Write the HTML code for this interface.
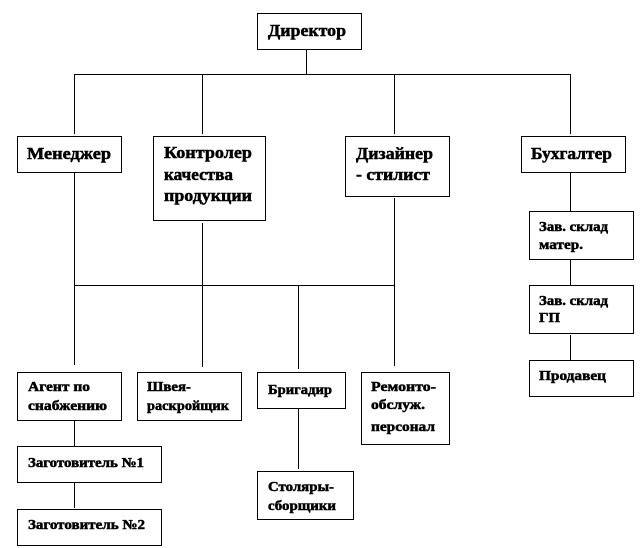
<!DOCTYPE html>
<html lang="ru">
<head>
<meta charset="utf-8">
<title>Организационная структура</title>
<style>
html,body{margin:0;padding:0;background:#fff;width:644px;height:548px;overflow:hidden}
svg{display:block}
text{font-family:"Liberation Serif","DejaVu Serif",serif;font-weight:bold;fill:#000;stroke:#000;stroke-width:.5}
.b{font-size:17px}
.s{font-size:13.5px}
rect{fill:#fff;stroke:#000;stroke-width:1}
line{stroke:#000;stroke-width:1}
</style>
</head>
<body>
<svg width="644" height="548" viewBox="0 0 644 548" xmlns="http://www.w3.org/2000/svg" shape-rendering="crispEdges">
<line x1="306.5" y1="49" x2="306.5" y2="74"/>
<line x1="74" y1="74.5" x2="571" y2="74.5"/>
<line x1="74.5" y1="74" x2="74.5" y2="134"/>
<line x1="202.5" y1="74" x2="202.5" y2="134"/>
<line x1="394.5" y1="74" x2="394.5" y2="134"/>
<line x1="570.5" y1="74" x2="570.5" y2="134"/>
<line x1="74.5" y1="172" x2="74.5" y2="365"/>
<line x1="202.5" y1="223" x2="202.5" y2="367"/>
<line x1="394.5" y1="198" x2="394.5" y2="366"/>
<line x1="74" y1="285.5" x2="395" y2="285.5"/>
<line x1="298.5" y1="285" x2="298.5" y2="369"/>
<line x1="570.5" y1="172" x2="570.5" y2="211"/>
<line x1="570.5" y1="259" x2="570.5" y2="285"/>
<line x1="570.5" y1="335" x2="570.5" y2="360"/>
<line x1="74.5" y1="420" x2="74.5" y2="446"/>
<line x1="74.5" y1="482" x2="74.5" y2="508"/>
<line x1="298.5" y1="409" x2="298.5" y2="469"/>

<rect x="257.5" y="13.5" width="104" height="36"/>
<rect x="17.5" y="136.5" width="104" height="36"/>
<rect x="153.5" y="136.5" width="112" height="84"/>
<rect x="345.5" y="136.5" width="104" height="60"/>
<rect x="521.5" y="136.5" width="104" height="36"/>
<rect x="529.5" y="211.5" width="104" height="48"/>
<rect x="529.5" y="285.5" width="104" height="48"/>
<rect x="529.5" y="360.5" width="104" height="36"/>
<rect x="17.5" y="372.5" width="104" height="48"/>
<rect x="137.5" y="372.5" width="104" height="48"/>
<rect x="257.5" y="372.5" width="88" height="36"/>
<rect x="361.5" y="372.5" width="88" height="72"/>
<rect x="17.5" y="446.5" width="144" height="36"/>
<rect x="17.5" y="509.5" width="144" height="36"/>
<rect x="257.5" y="471.5" width="96" height="48"/>

<g shape-rendering="auto">
<text class="b" x="268" y="36" textLength="78" lengthAdjust="spacingAndGlyphs">Директор</text>
<text class="b" x="27" y="159" textLength="84" lengthAdjust="spacingAndGlyphs">Менеджер</text>
<text class="b" x="164" y="158" textLength="88" lengthAdjust="spacingAndGlyphs">Контролер</text>
<text class="b" x="164" y="180" textLength="69" lengthAdjust="spacingAndGlyphs">качества</text>
<text class="b" x="164" y="201" textLength="88" lengthAdjust="spacingAndGlyphs">продукции</text>
<text class="b" x="356" y="159" textLength="77" lengthAdjust="spacingAndGlyphs">Дизайнер</text>
<text class="b" x="356" y="180" textLength="74" lengthAdjust="spacingAndGlyphs">- стилист</text>
<text class="b" x="531" y="159" textLength="81" lengthAdjust="spacingAndGlyphs">Бухгалтер</text>

<text class="s" x="539" y="231" textLength="69" lengthAdjust="spacingAndGlyphs">Зав. склад</text>
<text class="s" x="539" y="249" textLength="44" lengthAdjust="spacingAndGlyphs">матер.</text>
<text class="s" x="539" y="305" textLength="69" lengthAdjust="spacingAndGlyphs">Зав. склад</text>
<text class="s" x="539" y="322" textLength="21" lengthAdjust="spacingAndGlyphs">ГП</text>
<text class="s" x="539" y="380" textLength="67" lengthAdjust="spacingAndGlyphs">Продавец</text>

<text class="s" x="28" y="391" textLength="62" lengthAdjust="spacingAndGlyphs">Агент по</text>
<text class="s" x="28" y="410" textLength="79" lengthAdjust="spacingAndGlyphs">снабжению</text>
<text class="s" x="147" y="391" textLength="44" lengthAdjust="spacingAndGlyphs">Швея-</text>
<text class="s" x="147" y="410" textLength="82" lengthAdjust="spacingAndGlyphs">раскройщик</text>
<text class="s" x="268" y="394" textLength="64" lengthAdjust="spacingAndGlyphs">Бригадир</text>
<text class="s" x="371" y="391" textLength="65" lengthAdjust="spacingAndGlyphs">Ремонто-</text>
<text class="s" x="371" y="409" textLength="54" lengthAdjust="spacingAndGlyphs">обслуж.</text>
<text class="s" x="371" y="431" textLength="64" lengthAdjust="spacingAndGlyphs">персонал</text>
<text class="s" x="28" y="467" textLength="116" lengthAdjust="spacingAndGlyphs">Заготовитель №1</text>
<text class="s" x="28" y="529" textLength="117" lengthAdjust="spacingAndGlyphs">Заготовитель №2</text>
<text class="s" x="268" y="491" textLength="66" lengthAdjust="spacingAndGlyphs">Столяры-</text>
<text class="s" x="268" y="510" textLength="68" lengthAdjust="spacingAndGlyphs">сборщики</text>
</g>
</svg>
</body>
</html>
